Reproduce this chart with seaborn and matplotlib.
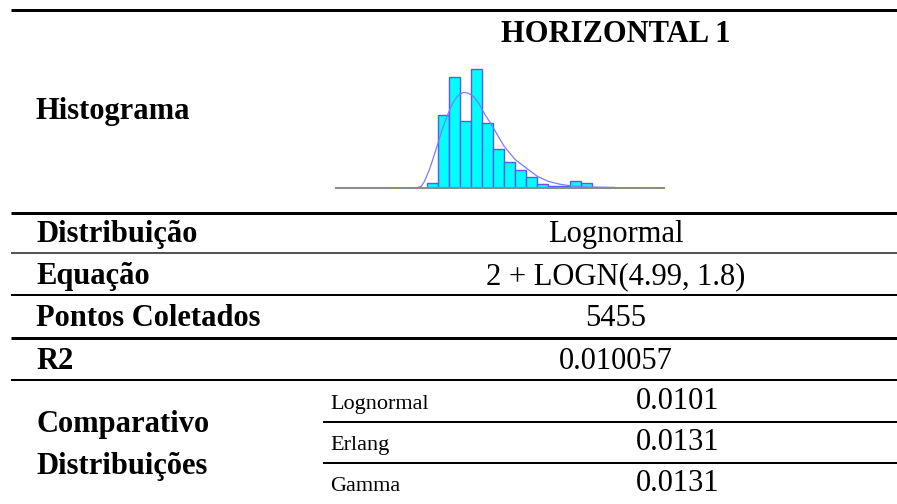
import numpy as np
import pandas as pd
import matplotlib
matplotlib.use("Agg")
import matplotlib.pyplot as plt
import seaborn as sns

sns.set_theme(style="white")
plt.rcParams['font.family'] = ['Liberation Serif', 'DejaVu Serif']
plt.rcParams['text.color'] = 'black'

# ---- data ----
title = "HORIZONTAL 1"
hist_label = "Histograma"
row_labels = ["Distribuição", "Equação", "Pontos Coletados", "R2"]
row_values = ["Lognormal", "2 + LOGN(4.99, 1.8)", "5455", "0.010057"]
comp_label = ["Comparativo", "Distribuições"]
comp_dists = ["Lognormal", "Erlang", "Gamma"]
comp_values = ["0.0101", "0.0131", "0.0131"]

bin_left = [3, 4, 5, 6, 7, 8, 9, 10, 11, 12, 13, 14, 15, 16, 17, 18, 19]
bin_freq = [0.95, 13.1, 19.9, 12.1, 21.4, 11.6, 7.0, 4.7, 3.2, 1.9,
            0.7, 0.4, 0.4, 1.25, 0.9, 0.24, 0.18]
curve_x = [0.0, 2.0, 2.46, 2.76, 3.21, 3.51, 3.99, 4.40, 4.85, 5.30, 5.75,
           6.19, 6.40, 6.79, 7.24, 7.69, 8.28, 8.88, 9.48, 9.99, 11.0,
           11.99, 13.0, 13.99, 15.0, 15.99, 17.0, 18.43, 19.9, 24.5]
curve_y = [0.0, 0.0, 0.3, 1.2, 3.3, 5.1, 8.1, 10.7, 13.1, 15.2, 16.5,
           17.1, 17.2, 17.0, 16.4, 15.2, 13.1, 11.3, 9.2, 7.5, 5.1,
           3.6, 2.1, 1.2, 0.7, 0.4, 0.24, 0.12, 0.06, 0.0]

W, H = 897, 504
fig = plt.figure(figsize=(W / 100, H / 100), dpi=100)
fig.patch.set_facecolor("white")

# background axes in pixel coordinates for the table
bg = fig.add_axes([0, 0, 1, 1])
bg.set_xlim(0, W)
bg.set_ylim(H, 0)
bg.axis("off")

px = 72 / 100  # points per pixel
thick, thin = 3 * px, 2 * px
bg.hlines([10, 212.5, 338], 11, W, colors="black", lw=thick)
bg.hlines([253], 11, W, colors="#555555", lw=thin)
bg.hlines([295, 380], 11, W, colors="black", lw=thin)
bg.hlines([422, 463], 323, W, colors="black", lw=thin)

big = 22
bg.text(616, 42, title, ha="center", va="baseline", fontsize=big, fontweight="bold", color="black")
bg.text(36, 119, hist_label, ha="left", va="baseline", fontsize=big, fontweight="bold", color="black")
row_base = [242, 284, 326, 369]
for lab, val, yb in zip(row_labels, row_values, row_base):
    bg.text(36, yb, lab, ha="left", va="baseline", fontsize=big, fontweight="bold", color="black")
    bg.text(616, yb, val, ha="center", va="baseline", fontsize=big, color="black")
for lab, yb in zip(comp_label, [432, 474]):
    bg.text(36, yb, lab, ha="left", va="baseline", fontsize=big, fontweight="bold", color="black")
sub_base = [409, 450, 491]
for d, v, yb in zip(comp_dists, comp_values, sub_base):
    bg.text(330, yb, d, ha="left", va="baseline", fontsize=16, color="black")
    bg.text(678, yb, v, ha="center", va="baseline", fontsize=big, color="black")

# histogram inset
ax = fig.add_axes([336 / W, (H - 188) / H, 328 / W, 124 / H])
ax.set_facecolor("none")
centers = [b + 0.5 for b in bin_left]
edges = bin_left + [bin_left[-1] + 1]
sns.histplot(x=centers, weights=bin_freq, bins=edges, ax=ax, stat="count",
             color="#00ffff", edgecolor="#5a5af0", linewidth=1.0, alpha=1.0)
sns.lineplot(x=curve_x, y=curve_y, ax=ax, color="#7b7bff", lw=0.9, zorder=5)
ax.set_xlim(-5.27, 24.5)
ax.set_ylim(0, 22.3)
for s in ["top", "left", "right"]:
    ax.spines[s].set_visible(False)
ax.spines["bottom"].set_color("#8c8c8c")
ax.spines["bottom"].set_linewidth(1.5)
ax.set_xticks([])
ax.set_yticks([])
ax.set_xlabel("")
ax.set_ylabel("")

fig.savefig("out.png", dpi=100)
